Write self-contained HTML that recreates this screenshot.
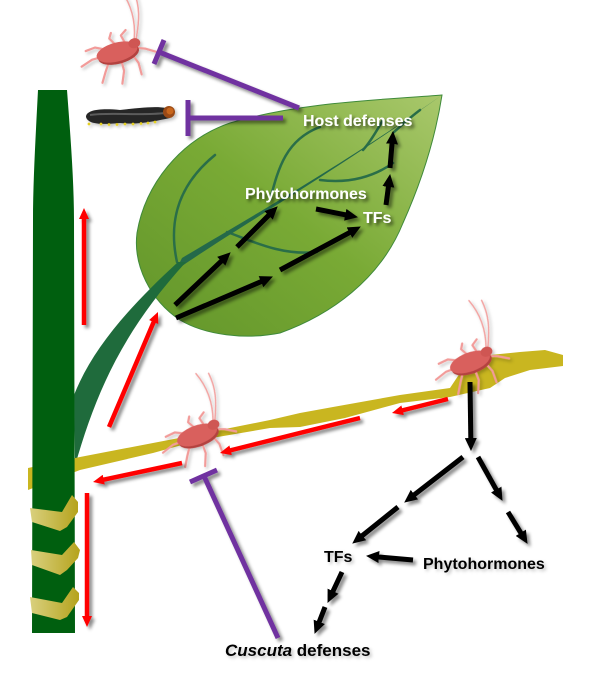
<!DOCTYPE html>
<html><head><meta charset="utf-8"><style>
html,body{margin:0;padding:0;background:#fff;}
svg{display:block;}
text{font-family:"Liberation Sans",Arial,sans-serif;font-weight:bold;}
</style></head><body>
<svg width="600" height="682" viewBox="0 0 600 682" xmlns="http://www.w3.org/2000/svg">
<defs>
  <filter id="sh" x="-20%" y="-20%" width="140%" height="140%">
    <feDropShadow dx="3" dy="3" stdDeviation="1.6" flood-color="#000" flood-opacity="0.45"/>
  </filter>
  <filter id="sht" x="-10%" y="-30%" width="120%" height="160%">
    <feDropShadow dx="2.5" dy="2.5" stdDeviation="1.5" flood-color="#000" flood-opacity="0.6"/>
  </filter>
  <filter id="shl" x="-20%" y="-20%" width="140%" height="140%">
    <feDropShadow dx="2" dy="2" stdDeviation="1.5" flood-color="#000" flood-opacity="0.25"/>
  </filter>
  <linearGradient id="leafg" x1="0" y1="1" x2="1" y2="0">
    <stop offset="0" stop-color="#62952a"/>
    <stop offset="0.5" stop-color="#79aa35"/>
    <stop offset="1" stop-color="#a9c86c"/>
  </linearGradient>
  <linearGradient id="coilg" x1="0" y1="0" x2="1" y2="0">
    <stop offset="0" stop-color="#d9d07e"/>
    <stop offset="1" stop-color="#b5a31c"/>
  </linearGradient>
  <marker id="ab" markerUnits="userSpaceOnUse" markerWidth="14" markerHeight="12" refX="6" refY="6" orient="auto">
    <path d="M0,0 L13,6 L0,12 Z" fill="#000"/>
  </marker>
  <marker id="ar" markerUnits="userSpaceOnUse" markerWidth="12" markerHeight="10" refX="5" refY="5" orient="auto">
    <path d="M0,0 L11,5 L0,10 Z" fill="#ff0000"/>
  </marker>
  <g id="mite">
    <g stroke="#f2a4a2" stroke-width="1.5" fill="none" stroke-linecap="round">
      <path d="M20,-8 C26,-25 26,-42 20,-58"/>
      <path d="M22,-8 C30,-25 34,-38 32,-54"/>
    </g>
    <g stroke="#f29b99" stroke-width="2.2" fill="none" stroke-linecap="round" stroke-linejoin="round">
      <path d="M10,-7 L8,-15 L14,-19"/>
      <path d="M0,-8 L-4,-15 L-1,-20"/>
      <path d="M-10,-5 L-20,-10 L-30,-9"/>
      <path d="M-14,1 L-26,1 L-38,5"/>
      <path d="M-10,7 L-16,16 L-22,26"/>
      <path d="M2,9 L2,20 L-3,32"/>
      <path d="M14,6 L18,16 L18,28"/>
      <path d="M20,1 L28,4 L38,10"/>
    </g>
    <ellipse cx="1" cy="2.5" rx="21" ry="9.5" fill="#b3423f"/>
    <ellipse cx="0" cy="0" rx="21" ry="9.5" fill="#d9605d"/>
    <ellipse cx="19" cy="-4" rx="6" ry="5" fill="#cf5653"/>
  </g>
</defs>

<!-- Leaf -->
<path d="M442,95 C380,100 300,102 230,123 C180,140 145,185 137,233 C133,265 150,300 180,320 C205,335 245,340 280,333 C330,315 380,280 403,223 C420,185 435,140 442,95 Z" fill="url(#leafg)" stroke="#3f8a3a" stroke-width="1"/>
<!-- veins -->
<g stroke="#2a6e48" stroke-width="2.5" fill="none" stroke-linecap="round">
  <path d="M177,262 C170,230 172,190 215,155"/>
  <path d="M227,232 C250,240 280,256 317,252"/>
  <path d="M270,200 C278,170 285,140 320,127"/>
  <path d="M320,180 C350,184 375,176 393,163"/>
  <path d="M363,150 C372,140 378,128 383,120"/>
  <path d="M393,133 C405,122 412,116 420,110"/>
</g>
<path d="M176,270 C240,226 330,175 442,95 C335,170 245,220 182,258 Z" fill="#24694a"/>
<!-- petiole -->
<path d="M75,466 C95,395 122,332 186,262 L178,262 C126,310 92,350 74,395 Z" fill="#1f6b3c"/>

<!-- dodder -->
<path d="M28,468 L80,457 L153,443 L200,434 L270,420 L300,413 L333,407 L400,395 L450,388 L462,370 L480,356 L520,352 L545,350 L563,355 L563,366 L530,370 L505,378 L490,388 L450,397 L400,403 L345,418 L300,427 L270,428 L200,440 L153,453 L80,470 L28,490 Z" fill="#c9b620"/>

<!-- stem -->
<path d="M38,90 L67,90 C70,130 74,180 74,220 L75,633 L32,633 L33,220 C33,180 36,130 38,90 Z" fill="#005f0f"/>

<!-- coils -->
<g fill="url(#coilg)">
  <path d="M30,508 L62,512 L72,495 L78,502 L78,512 L67,527 L60,531 L32,522 Z"/>
  <path d="M31,550 L62,555 L74,542 L80,550 L78,558 L67,570 L60,575 L32,565 Z"/>
  <path d="M30,597 L62,603 L73,587 L79,593 L79,600 L67,617 L60,620 L32,613 Z"/>
</g>

<!-- caterpillar -->
<g filter="url(#shl)">
  <path d="M86,117 C86,110 100,108 120,110 C140,108 155,106 166,108 L170,118 C155,121 140,125 120,123 C100,125 88,124 86,117 Z" fill="#262626"/>
  <path d="M90,115 C110,112 140,116 165,113" stroke="#5c5c5c" stroke-width="2" fill="none"/>
  <g fill="#e6d020">
    <circle cx="89" cy="124" r="1.4"/><circle cx="101" cy="124" r="1.4"/><circle cx="109" cy="124.5" r="1.4"/>
    <circle cx="117" cy="124.5" r="1.4"/><circle cx="125" cy="124" r="1.4"/><circle cx="133" cy="124" r="1.4"/>
    <circle cx="141" cy="123.5" r="1.4"/><circle cx="148" cy="123" r="1.4"/><circle cx="155" cy="122" r="1.4"/>
  </g>
  <ellipse cx="169" cy="112" rx="6" ry="6" fill="#9a4a12"/>
  <ellipse cx="170" cy="111" rx="3.5" ry="3.5" fill="#c8661e"/>
</g>

<!-- mites -->
<g filter="url(#shl)">
  <use href="#mite" transform="translate(117,52) rotate(-15)"/>
  <use href="#mite" transform="translate(197,435) rotate(-20)"/>
  <use href="#mite" transform="translate(470,362) rotate(-20)"/>
</g>

<!-- purple inhibition lines -->
<g stroke="#7030a0" stroke-width="5" fill="none" filter="url(#sh)">
  <path d="M299,108 L159,52 M154,64 L164,40"/>
  <path d="M283,118 L188,118 M188,100 L188,136"/>
  <path d="M278,638 L204,476 M190,482 L217,470"/>
</g>

<!-- red arrows -->
<g stroke="#ff0000" stroke-width="4.5" fill="none" marker-end="url(#ar)" filter="url(#sh)">
  <line x1="84" y1="325" x2="84" y2="214"/>
  <line x1="109" y1="427" x2="155.6" y2="317.5"/>
  <line x1="448" y1="399" x2="397.8" y2="411.5"/>
  <line x1="360" y1="418" x2="225.8" y2="451.5"/>
  <line x1="182" y1="463" x2="98.9" y2="480.7"/>
  <line x1="87" y1="493" x2="87" y2="621"/>
</g>

<!-- black arrows -->
<g stroke="#000" stroke-width="5" fill="none" marker-end="url(#ab)" filter="url(#sh)">
  <line x1="175" y1="305" x2="225.6" y2="257.1"/>
  <line x1="237" y1="247" x2="272.8" y2="211.2"/>
  <line x1="176" y1="318" x2="266.5" y2="279.3"/>
  <line x1="280" y1="270" x2="354.7" y2="229.8"/>
  <line x1="316" y1="209" x2="351.1" y2="215.9"/>
  <line x1="386" y1="205" x2="389.2" y2="180.9"/>
  <line x1="390" y1="168" x2="392.5" y2="138"/>

  <line x1="470" y1="382" x2="470.9" y2="444"/>
  <line x1="463" y1="457" x2="409.7" y2="498.3"/>
  <line x1="398" y1="507" x2="357.7" y2="539.3"/>
  <line x1="478" y1="457" x2="499.1" y2="494.8"/>
  <line x1="508" y1="512" x2="523.9" y2="537.9"/>
  <line x1="413" y1="560" x2="373" y2="556.5"/>
  <line x1="342" y1="572" x2="330.5" y2="596.6"/>
  <line x1="325" y1="607" x2="317.1" y2="627.4"/>
</g>

<!-- labels -->
<g filter="url(#sht)">
  <text x="303" y="126" font-size="16" fill="#fff">Host defenses</text>
  <text x="245" y="199" font-size="16" fill="#fff">Phytohormones</text>
  <text x="363" y="223" font-size="16" fill="#fff">TFs</text>
</g>
<g filter="url(#shl)">
  <text x="324" y="562" font-size="16" fill="#000">TFs</text>
  <text x="423" y="569" font-size="16" fill="#000">Phytohormones</text>
  <text x="225" y="656" font-size="17" fill="#000"><tspan font-style="italic">Cuscuta</tspan> defenses</text>
</g>
</svg>
</body></html>
